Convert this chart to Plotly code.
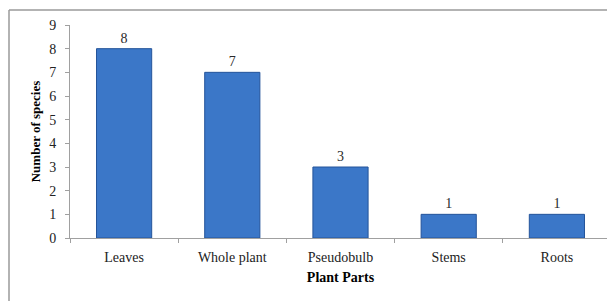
import plotly.graph_objects as go

categories = ["Leaves", "Whole plant", "Pseudobulb", "Stems", "Roots"]
species_counts = [8, 7, 3, 1, 1]
y_ticks = list(range(0, 10))

# page body has 8px default margin: shift the figure geometry accordingly
OFF = 8
W, H = 615 - OFF, 301 - OFF
ml, mr, mt, mb = 70 - OFF, 4, 25 - OFF, 63
pw = W - ml - mr
ph = H - mt - mb

def px_x(p):
    return (p - OFF - ml) / pw

def px_y(p):
    return (H - mb - (p - OFF)) / ph

label_font = dict(family="Liberation Serif", size=14, color="#2a2a2a")

fig = go.Figure()
fig.add_trace(go.Bar(
    x=categories, y=species_counts,
    marker=dict(color="#3b77c8", line=dict(color="#24549a", width=1)),
    width=0.51,
    text=[str(v) for v in species_counts],
    textposition="outside",
    textfont=label_font,
    outsidetextfont=label_font,
    cliponaxis=False,
))

fig.update_layout(
    width=W, height=H,
    margin=dict(l=ml, r=mr, t=mt, b=mb),
    paper_bgcolor="white", plot_bgcolor="white",
    font=dict(family="Liberation Serif", size=13, color="#222222"),
    showlegend=False,
    xaxis=dict(
        showline=True, linecolor="#a0a0a0", linewidth=1,
        ticks="outside", tickson="boundaries", ticklen=4, tickcolor="#a0a0a0",
        ticklabelstandoff=6,
        tickfont=dict(family="Liberation Serif", size=14, color="#222222"),
        title=dict(text="<b>Plant Parts</b>", font=dict(family="Liberation Serif", size=14, color="#000000"), standoff=8),
        showgrid=False,
    ),
    yaxis=dict(
        range=[0, 9], tickvals=y_ticks,
        showline=True, linecolor="#a0a0a0", linewidth=1,
        ticks="outside", ticklen=4, tickcolor="#a0a0a0",
        ticklabelstandoff=6,
        tickfont=dict(family="Liberation Serif", size=14, color="#222222"),
        title=dict(text="<b>Number of species</b>", font=dict(family="Liberation Serif", size=13, color="#000000"), standoff=5),
        showgrid=False, zeroline=False,
    ),
)

fig.add_shape(type="line", xref="paper", yref="paper",
              x0=px_x(9), x1=px_x(640), y0=px_y(10), y1=px_y(10),
              line=dict(color="#9a9a9a", width=1.5))
fig.add_shape(type="line", xref="paper", yref="paper",
              x0=px_x(9), x1=px_x(9), y0=px_y(10), y1=px_y(320),
              line=dict(color="#9a9a9a", width=1.5))

fig.write_html("out.html")
